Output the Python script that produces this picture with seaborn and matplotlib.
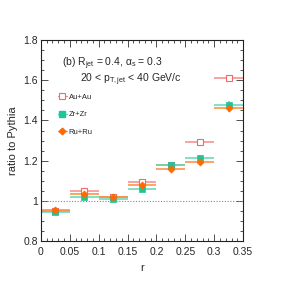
import numpy as np
import pandas as pd
import seaborn as sns
import matplotlib
matplotlib.use("Agg")
import matplotlib.pyplot as plt
from matplotlib.lines import Line2D
from matplotlib.ticker import MultipleLocator

# Data
r_centers = [0.025, 0.075, 0.125, 0.175, 0.225, 0.275, 0.325]
r_halfwidth = [0.025] * 7
au_au = [0.950, 1.050, 1.020, 1.095, 1.180, 1.295, 1.610]
au_err = [0.010, 0.010, 0.008, 0.010, 0.010, 0.012, 0.018]
zr_zr = [0.945, 1.020, 1.010, 1.058, 1.180, 1.215, 1.478]
zr_err = [0.010, 0.010, 0.008, 0.010, 0.012, 0.012, 0.018]
ru_ru = [0.955, 1.035, 1.020, 1.078, 1.160, 1.195, 1.462]
ru_err = [0.010, 0.010, 0.008, 0.010, 0.010, 0.012, 0.018]
series_names = ["Au+Au", "Zr+Zr", "Ru+Ru"]

sns.set_theme(style="ticks")
plt.rcParams['font.family'] = ['Liberation Sans', 'DejaVu Sans']
plt.rcParams['mathtext.fontset'] = 'custom'
plt.rcParams['mathtext.rm'] = 'Liberation Sans'
plt.rcParams['mathtext.it'] = 'Liberation Sans'

fig = plt.figure(figsize=(2.84, 2.84), dpi=100)
ax = fig.add_axes([0.144, 0.151, 0.712, 0.708])

colors = {"Au+Au": "#f26b6b", "Zr+Zr": "#1fc497", "Ru+Ru": "#ff6a00"}
line_colors = {"Au+Au": "#f58a8a", "Zr+Zr": "#5ed8b5", "Ru+Ru": "#ff8a3a"}
markers = {"Au+Au": "s", "Zr+Zr": "s", "Ru+Ru": "D"}
vals = {"Au+Au": (au_au, au_err), "Zr+Zr": (zr_zr, zr_err), "Ru+Ru": (ru_ru, ru_err)}

rows = []
for name in series_names:
    v, e = vals[name]
    for x, y, ye in zip(r_centers, v, e):
        rows.append(dict(r=x, ratio=y, err=ye, system=name))
df = pd.DataFrame(rows)

ax.axhline(1.0, color="#888888", lw=0.8, ls=(0, (1, 1.5)), zorder=1)

for name in series_names:
    d = df[df.system == name]
    ax.errorbar(d.r, d.ratio, xerr=r_halfwidth, yerr=d.err, fmt="none",
                ecolor=line_colors[name], elinewidth=1.1, capsize=0, zorder=2)

for name in series_names:
    d = df[df.system == name]
    if name == "Au+Au":
        sns.scatterplot(data=d, x="r", y="ratio", ax=ax, marker="s", s=16,
                        facecolor="white", edgecolor=colors[name], linewidth=0.8,
                        zorder=3, legend=False)
    else:
        sns.scatterplot(data=d, x="r", y="ratio", ax=ax, marker=markers[name],
                        s=16 if name == "Zr+Zr" else 13,
                        color=colors[name], edgecolor=colors[name], linewidth=0.5,
                        zorder=3, legend=False)

ax.set_xlim(0, 0.35)
ax.set_ylim(0.8, 1.8)
ax.xaxis.set_minor_locator(MultipleLocator(0.01))
ax.yaxis.set_minor_locator(MultipleLocator(0.05))
ax.set_xticks([0, 0.05, 0.1, 0.15, 0.2, 0.25, 0.3, 0.35])
ax.set_xticklabels(["0", "0.05", "0.1", "0.15", "0.2", "0.25", "0.3", "0.35"])
ax.set_yticks([0.8, 1.0, 1.2, 1.4, 1.6, 1.8])
ax.set_yticklabels(["0.8", "1", "1.2", "1.4", "1.6", "1.8"])
ax.tick_params(which="both", direction="in", top=True, right=True,
               labelsize=7.5, color="#333333", width=0.6)
ax.tick_params(axis="x", pad=4)
ax.tick_params(axis="y", pad=2)
ax.tick_params(which="major", length=5)
ax.tick_params(which="minor", length=2.5)
for s in ax.spines.values():
    s.set_linewidth(0.8)
    s.set_color("#222222")

ax.set_xlabel("r", fontsize=8)
ax.set_ylabel("ratio to Pythia", fontsize=8)
ax.xaxis.set_label_coords(0.5, -0.11)
ax.yaxis.set_label_coords(-0.115, 0.5)

ax.text(0.036, 1.68, r"(b) R$_{\rm jet}$ = 0.4, $\alpha_{\rm s}$ = 0.3",
        fontsize=7.5, va="center", ha="left")
ax.text(0.068, 1.602, r"20 < p$_{\rm T,jet}$ < 40 GeV/c",
        fontsize=7.5, va="center", ha="left")

handles = []
handles.append(Line2D([], [], color=line_colors["Au+Au"], marker="s", mfc="white",
                      mec=colors["Au+Au"], ms=3.8, lw=0.9, mew=0.8))
handles.append(Line2D([], [], color=line_colors["Zr+Zr"], marker="s", mfc=colors["Zr+Zr"],
                      mec=colors["Zr+Zr"], ms=3.8, lw=0.9))
handles.append(Line2D([], [], color=line_colors["Ru+Ru"], marker="D", mfc=colors["Ru+Ru"],
                      mec=colors["Ru+Ru"], ms=3.4, lw=0.9))
leg = ax.legend(handles, series_names, loc="upper left", bbox_to_anchor=(0.07, 0.75),
                frameon=False, fontsize=5.5, handlelength=1.1, handletextpad=0.3,
                labelspacing=1.35, borderaxespad=0.0, borderpad=0.4)

fig.savefig("out.png", dpi=100)
